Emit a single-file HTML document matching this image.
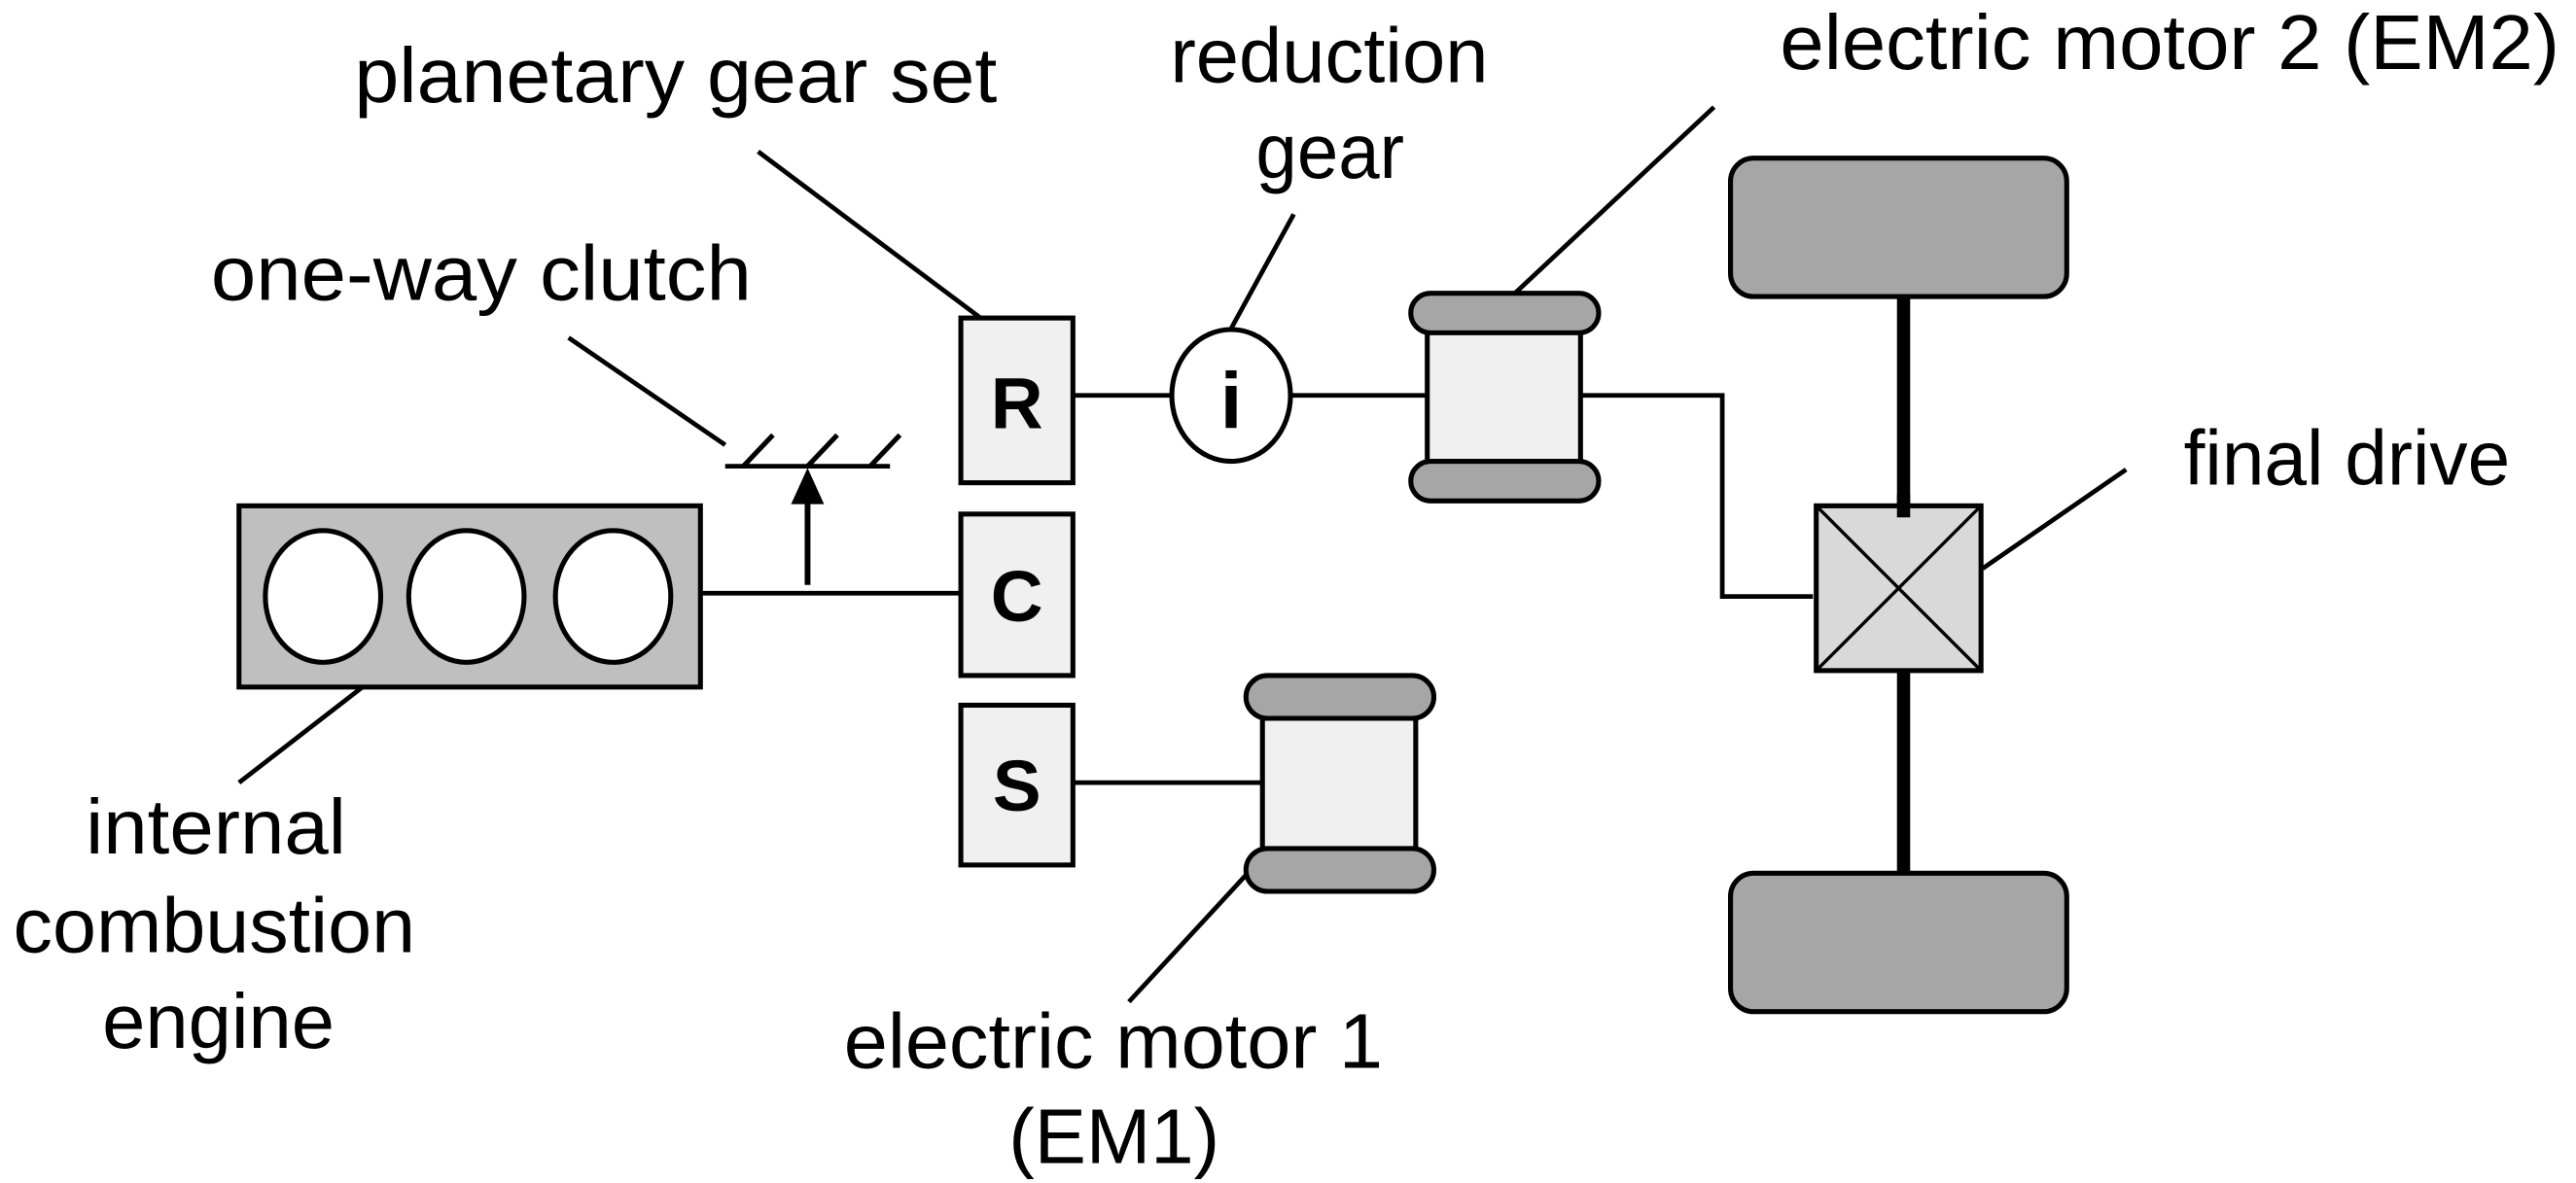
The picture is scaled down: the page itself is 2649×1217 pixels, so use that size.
<!DOCTYPE html>
<html><head><meta charset="utf-8"><style>html,body{margin:0;padding:0;background:#fff}svg{display:block}</style></head>
<body>
<svg width="2649" height="1217" viewBox="0 0 1563 718" preserveAspectRatio="none" xmlns="http://www.w3.org/2000/svg">
<g stroke="#000" stroke-width="2.8" fill="none">
<line x1="460" y1="92" x2="595" y2="193"/>
<line x1="345" y1="205" x2="440" y2="270"/>
<line x1="785" y1="130" x2="745" y2="203"/>
<line x1="1040" y1="65" x2="917" y2="180"/>
<line x1="1290" y1="285" x2="1203" y2="345"/>
<line x1="220" y1="417" x2="145" y2="475"/>
<line x1="757" y1="530" x2="685" y2="608"/>
<line x1="425" y1="360" x2="583" y2="360"/>
<line x1="651" y1="240" x2="710" y2="240"/>
<line x1="784" y1="240" x2="865" y2="240"/>
<polyline points="960,240 1045,240 1045,362 1100,362"/>
<line x1="651" y1="475" x2="765" y2="475"/>
<line x1="440" y1="283" x2="540" y2="283"/>
<line x1="451" y1="283" x2="469" y2="264" stroke-width="3"/>
<line x1="490" y1="283" x2="508" y2="264" stroke-width="3"/>
<line x1="528" y1="283" x2="546" y2="264" stroke-width="3"/>
<line x1="490" y1="355" x2="490" y2="300" stroke-width="3.5"/>
</g>
<polygon points="490,284 480,306 500,306" fill="#000"/>
<line x1="1155" y1="175" x2="1155" y2="530" stroke="#000" stroke-width="8"/>
<g stroke="#000" stroke-width="3">
<rect x="145" y="307" width="280" height="110" fill="#bfbfbf"/>
<ellipse cx="196" cy="362" rx="35" ry="40" fill="#fff"/>
<ellipse cx="283" cy="362" rx="35" ry="40" fill="#fff"/>
<ellipse cx="372" cy="362" rx="35" ry="40" fill="#fff"/>
<rect x="583" y="193" width="68" height="100" fill="#f0f0f0"/>
<rect x="583" y="312" width="68" height="98" fill="#f0f0f0"/>
<rect x="583" y="428" width="68" height="97" fill="#f0f0f0"/>
<ellipse cx="747" cy="240" rx="36" ry="40" fill="#fff"/>
<rect x="866" y="190" width="93" height="100" fill="#f0f0f0"/>
<rect x="856" y="178" width="114" height="24" rx="12" fill="#a6a6a6"/>
<rect x="856" y="280" width="114" height="24" rx="12" fill="#a6a6a6"/>
<rect x="766" y="432" width="93" height="90" fill="#f0f0f0"/>
<rect x="756" y="410" width="114" height="26" rx="13" fill="#a6a6a6"/>
<rect x="756" y="515" width="114" height="26" rx="13" fill="#a6a6a6"/>
<rect x="1050" y="96" width="204" height="84" rx="14" fill="#a6a6a6"/>
<rect x="1050" y="530" width="204" height="84" rx="14" fill="#a6a6a6"/>
<rect x="1102" y="307" width="100" height="100" fill="#d9d9d9"/>
<line x1="1102" y1="307" x2="1202" y2="407" stroke-width="2"/>
<line x1="1202" y1="307" x2="1102" y2="407" stroke-width="2"/>
</g>
<line x1="1155" y1="300" x2="1155" y2="314" stroke="#000" stroke-width="8"/>
<g font-family="Liberation Sans, sans-serif" font-weight="bold" font-size="44" text-anchor="middle">
<text x="617" y="260">R</text>
<text x="617" y="377">C</text>
<text x="617" y="492">S</text>
<text x="747" y="260" font-size="48">i</text>
</g>
<g font-family="Liberation Sans, sans-serif" font-size="47" fill="#000" lengthAdjust="spacingAndGlyphs">
<text x="215" y="62" textLength="390" lengthAdjust="spacingAndGlyphs">planetary  gear set</text>
<text x="710" y="50" textLength="193" lengthAdjust="spacingAndGlyphs">reduction</text>
<text x="762" y="108" textLength="90" lengthAdjust="spacingAndGlyphs">gear</text>
<text x="1080" y="42" textLength="473" lengthAdjust="spacingAndGlyphs">electric motor 2 (EM2)</text>
<text x="128" y="182" textLength="328" lengthAdjust="spacingAndGlyphs">one-way  clutch</text>
<text x="1325" y="294" textLength="198" lengthAdjust="spacingAndGlyphs">final drive</text>
<text x="52" y="518" textLength="158" lengthAdjust="spacingAndGlyphs">internal</text>
<text x="8" y="578" textLength="244" lengthAdjust="spacingAndGlyphs">combustion</text>
<text x="62" y="636" textLength="141" lengthAdjust="spacingAndGlyphs">engine</text>
<text x="512" y="648" textLength="327" lengthAdjust="spacingAndGlyphs">electric motor 1</text>
<text x="612" y="706" textLength="128" lengthAdjust="spacingAndGlyphs">(EM1)</text>
</g>
</svg>
</body></html>
